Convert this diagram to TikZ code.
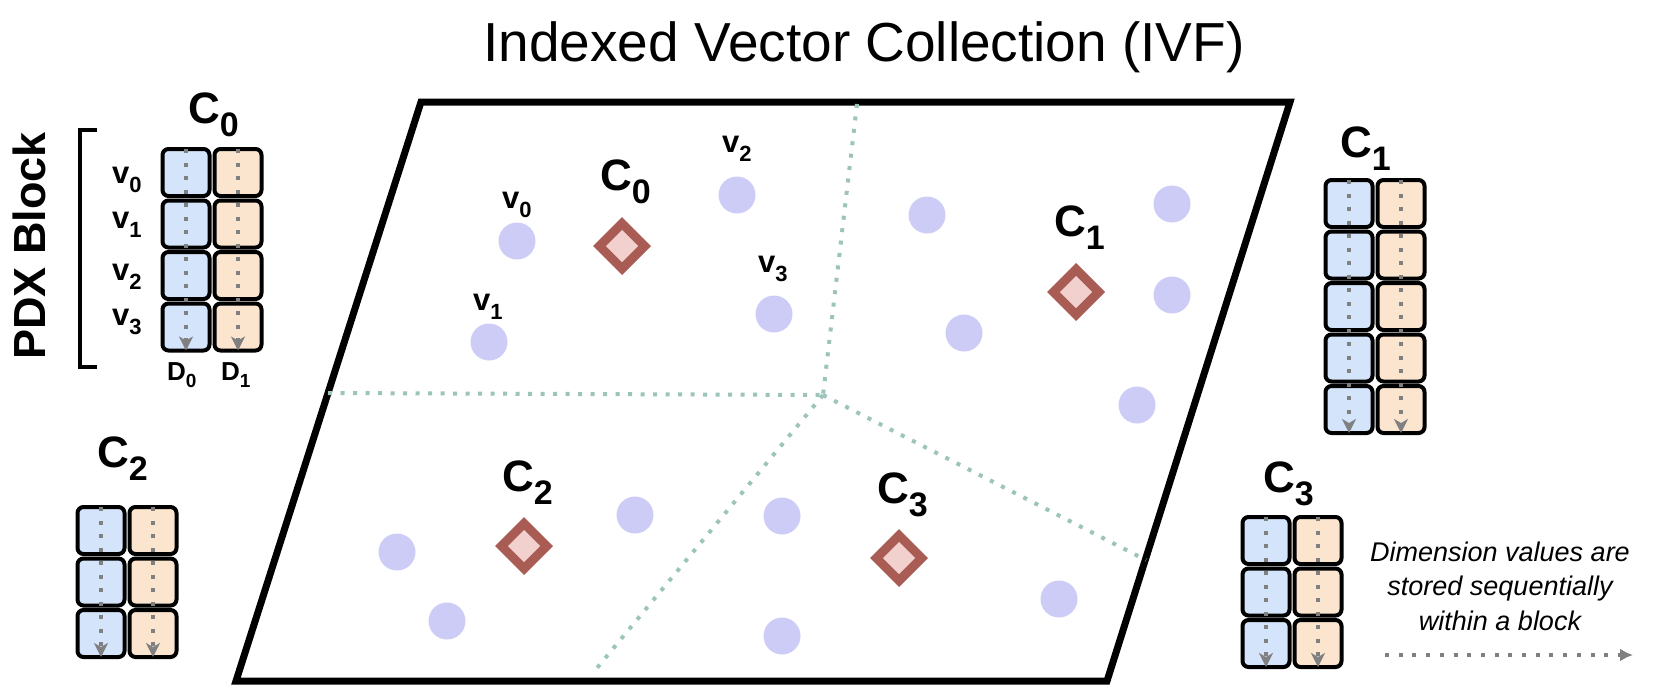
\documentclass[tikz,border=0pt]{standalone}
\usepackage{fontspec}
\setmainfont{Liberation Sans}
\usetikzlibrary{arrows.meta}
\definecolor{blueC}{RGB}{212,228,250}
\definecolor{orangeC}{RGB}{251,229,207}
\definecolor{partC}{RGB}{156,196,186}
\definecolor{lavC}{RGB}{204,204,247}
\definecolor{dstroke}{RGB}{168,92,84}
\definecolor{dfill}{RGB}{242,208,205}
\definecolor{arrgray}{RGB}{128,128,128}
\newcommand\labtxt[5]{\fontsize{#1}{#1}\selectfont #4\raisebox{-#3}{\fontsize{#2}{#2}\selectfont #5}}
\begin{document}
\begin{tikzpicture}[x=1pt,y=-1pt,
  cellb/.style={draw, line width=4pt, rounded corners=6pt, fill=blueC, minimum size=47pt, inner sep=0pt, outer sep=0pt},
  cello/.style={cellb, fill=orangeC},
  colarrow/.style={draw=arrgray, line width=4pt, dash pattern=on 4pt off 9.5pt, -{Stealth[length=14pt,width=14pt,inset=4pt]}},
  legarrow/.style={draw=arrgray, line width=4pt, dash pattern=on 4pt off 9.7pt, -{Latex[length=13pt,width=13pt]}},
  vpt/.style={circle, fill=lavC, minimum size=37pt, inner sep=0pt},
  cent/.style={rectangle, draw=dstroke, fill=dfill, line width=9pt, minimum size=32pt, rotate=45, inner sep=0pt},
  part/.style={draw=partC, line width=4pt, dash pattern=on 4pt off 8.5pt},
  lab/.style={anchor=base west, inner sep=0pt, font=\bfseries},
  border/.style={draw, line width=7pt, line join=miter}
]
\useasboundingbox (0,0) rectangle (1656,694);

% title
\node[anchor=base, inner sep=0pt, font=\fontsize{55pt}{60pt}\selectfont] (title) at (864,61) {Indexed Vector Collection (IVF)};

% parallelogram
\coordinate (TL) at (421,102);
\coordinate (TR) at (1290,102);
\coordinate (BR) at (1107,681);
\coordinate (BL) at (236,681);
\draw[border] (TL) -- (TR) -- (BR) -- (BL) -- cycle;

% partitions
\coordinate (J) at (823,395);
\coordinate (PL) at (328,393);
\coordinate (PT) at (857,104);
\coordinate (PB) at (597,668);
\coordinate (PR) at (1146,560);
\draw[part] (PL) -- (J);
\draw[part] (PT) -- (J);
\draw[part] (J) -- (PB);
\draw[part] (J) -- (PR);

% vectors
\foreach \i/\x/\y in {a/517/241, b/489/342, c/737/195, d/774/314,
  e/927/215, f/1172/204, g/1172/295, h/964/333, k/1137/405,
  l/397/552, m/447/621, n/635/515,
  o/782/516, p/782/636, q/1059/599}
  \node[vpt] (pt\i) at (\x,\y) {};

% centroids
\node[cent] (d0) at (622,246) {};
\node[cent] (d1) at (1076,292) {};
\node[cent] (d2) at (524,546) {};
\node[cent] (d3) at (899,558) {};

\node[lab] (lc0) at (600,190) {\labtxt{44pt}{34pt}{13pt}{C}{0}};
\node[lab] (lc1) at (1054,236) {\labtxt{44pt}{34pt}{13pt}{C}{1}};
\node[lab] (lc2) at (502,491) {\labtxt{44pt}{34pt}{13pt}{C}{2}};
\node[lab] (lc3) at (877,503) {\labtxt{44pt}{34pt}{13pt}{C}{3}};

\node[lab] (lv0) at (502,208) {\labtxt{31pt}{22pt}{9pt}{v}{0}};
\node[lab] (lv1) at (473,310) {\labtxt{31pt}{22pt}{9pt}{v}{1}};
\node[lab] (lv2) at (722,152) {\labtxt{31pt}{22pt}{9pt}{v}{2}};
\node[lab] (lv3) at (758,272) {\labtxt{31pt}{22pt}{9pt}{v}{3}};

% blocks
\foreach \n/\x/\y/\rows in {0/186/172.5/4, 1/1349/203.5/5, 2/101/530.5/3, 3/1266/540.5/3} {
  \foreach \r in {1,...,\rows} {
    \node[cellb] (b\n-\r) at (\x,{\y+(\r-1)*51.5}) {};
    \node[cello] (o\n-\r) at ({\x+52},{\y+(\r-1)*51.5}) {};
  }
  \draw[colarrow] (b\n-1.north) -- (b\n-\rows.south);
  \draw[colarrow] (o\n-1.north) -- (o\n-\rows.south);
}

\node[lab] (bc0) at (188,123) {\labtxt{44pt}{34pt}{13pt}{C}{0}};
\node[lab] (bc1) at (1340,157) {\labtxt{44pt}{34pt}{13pt}{C}{1}};
\node[lab] (bc2) at (97,467) {\labtxt{44pt}{34pt}{13pt}{C}{2}};
\node[lab] (bc3) at (1263,492) {\labtxt{44pt}{34pt}{13pt}{C}{3}};

\node[lab] (bv0) at (112,183) {\labtxt{31pt}{22pt}{9pt}{v}{0}};
\node[lab] (bv1) at (112,228) {\labtxt{31pt}{22pt}{9pt}{v}{1}};
\node[lab] (bv2) at (112,280) {\labtxt{31pt}{22pt}{9pt}{v}{2}};
\node[lab] (bv3) at (112,325) {\labtxt{31pt}{22pt}{9pt}{v}{3}};

\node[lab] (bd0) at (167,380) {\labtxt{26pt}{19pt}{7pt}{D}{0}};
\node[lab] (bd1) at (221,380) {\labtxt{26pt}{19pt}{7pt}{D}{1}};

% bracket
\coordinate (k1) at (97,130);
\coordinate (k2) at (80,130);
\coordinate (k3) at (80,367);
\coordinate (k4) at (97,367);
\draw[line width=3.3pt] (k1) -- (k2) -- (k3) -- (k4);
\node[rotate=90, inner sep=0pt, font=\bfseries\fontsize{45pt}{45pt}\selectfont] (pdx) at (29,246) {PDX Block};

% legend
\node[anchor=base, inner sep=0pt, align=center, font=\itshape\fontsize{27pt}{34.5pt}\selectfont] (leg) at (1500,630) {Dimension values are\\stored sequentially\\within a block};
\coordinate (la) at (1385,655);
\coordinate (lb) at (1633,655);
\draw[legarrow] (la) -- (lb);
\end{tikzpicture}
\end{document}
